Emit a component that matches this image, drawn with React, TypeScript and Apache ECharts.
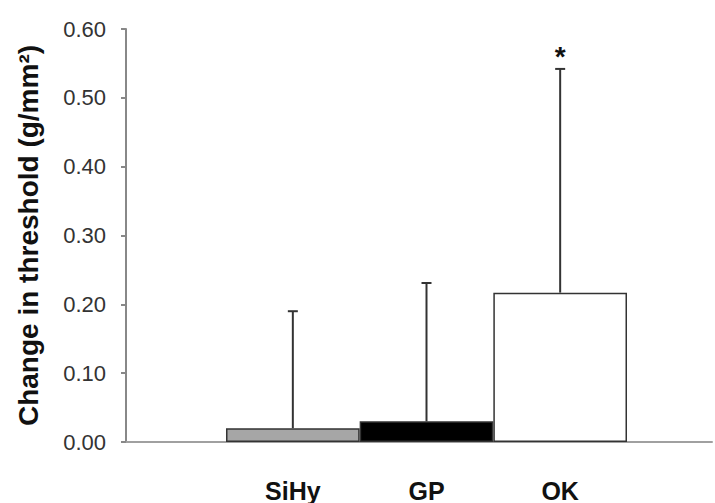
import React, { useEffect, useRef } from "react";
import * as echarts from "echarts";

const categories = ["SiHy", "GP", "OK"];
const means = [0.02, 0.03, 0.217];
const errPlus = [0.17, 0.201, 0.325];
const significance = ["", "", "*"];
const barColors = ["#a6a6a6", "#000000", "#ffffff"];
const yTicks = { min: 0, max: 0.6, interval: 0.1 };
const yTitle = "Change in threshold (g/mm²)";

export default function App() {
  const ref = useRef<HTMLDivElement>(null);
  useEffect(() => {
    if (!ref.current) return;
    const chart = echarts.init(ref.current, null, { renderer: "svg" });
    const font = "'Liberation Sans', Arial, Helvetica, sans-serif";
    const top = 29;
    const bottom = 61;
    chart.setOption({
      animation: false,
      backgroundColor: "#ffffff",
      textStyle: { fontFamily: font },
      grid: [
        { left: 126, right: 3, top, bottom, containLabel: false, outerBoundsMode: "none" },
        { left: 226, right: 88, top, bottom, containLabel: false, outerBoundsMode: "none" },
      ],
      xAxis: [
        {
          gridIndex: 0,
          type: "value",
          min: 0,
          max: 1,
          axisLine: { show: true, onZero: false, lineStyle: { color: "#a0a0a0", width: 2 } },
          axisTick: { show: false },
          axisLabel: { show: false },
          splitLine: { show: false },
        },
        {
          gridIndex: 1,
          type: "category",
          data: categories,
          axisLine: { show: false },
          axisTick: { show: false },
          axisLabel: {
            margin: 36,
            color: "#111111",
            fontSize: 25,
            fontWeight: "bold",
            fontFamily: font,
          },
        },
      ],
      yAxis: [
        {
          gridIndex: 0,
          type: "value",
          min: yTicks.min,
          max: yTicks.max,
          interval: yTicks.interval,
          name: yTitle,
          nameLocation: "middle",
          nameGap: 84,
          nameTextStyle: {
            fontSize: 28,
            fontWeight: "bold",
            color: "#111111",
            fontFamily: font,
          },
          axisLine: { show: true, lineStyle: { color: "#888888", width: 2 } },
          axisTick: { show: true, inside: false, length: 5, lineStyle: { color: "#888888", width: 2 } },
          axisLabel: {
            margin: 20,
            fontSize: 22,
            color: "#333333",
            fontFamily: font,
            formatter: (v: number) => v.toFixed(2),
          },
          splitLine: { show: false },
        },
        {
          gridIndex: 1,
          type: "value",
          min: yTicks.min,
          max: yTicks.max,
          interval: yTicks.interval,
          show: false,
        },
      ],
      series: [
        {
          type: "bar",
          xAxisIndex: 1,
          yAxisIndex: 1,
          barWidth: "100%",
          barCategoryGap: "0%",
          data: means.map((m, i) => ({
            value: m,
            itemStyle: {
              color: barColors[i],
              borderColor: "#333333",
              borderWidth: 1.5,
            },
          })),
        },
        {
          type: "custom",
          xAxisIndex: 1,
          yAxisIndex: 1,
          z: 5,
          data: means.map((m, i) => [i, m, m + errPlus[i]]),
          renderItem: (params: any, api: any) => {
            const i = api.value(0);
            const base = api.coord([i, api.value(1)]);
            const tp = api.coord([i, api.value(2)]);
            const children: any[] = [
              {
                type: "line",
                shape: { x1: base[0], y1: base[1], x2: tp[0], y2: tp[1] },
                style: { stroke: "#333333", lineWidth: 2 },
              },
              {
                type: "line",
                shape: { x1: tp[0] - 5, y1: tp[1], x2: tp[0] + 5, y2: tp[1] },
                style: { stroke: "#333333", lineWidth: 2 },
              },
            ];
            const sig = significance[params.dataIndex];
            if (sig) {
              children.push({
                type: "text",
                x: tp[0],
                y: tp[1] + 2,
                style: {
                  text: sig,
                  fontSize: 28,
                  fontWeight: "bold",
                  fontFamily: font,
                  fill: "#111111",
                  align: "center",
                  verticalAlign: "bottom",
                },
              });
            }
            return { type: "group", children };
          },
        },
      ],
    });
    return () => chart.dispose();
  }, []);
  return (
    <div
      ref={ref}
      style={{ position: "fixed", left: 0, top: 0, width: 715, height: 503 }}
    />
  );
}
